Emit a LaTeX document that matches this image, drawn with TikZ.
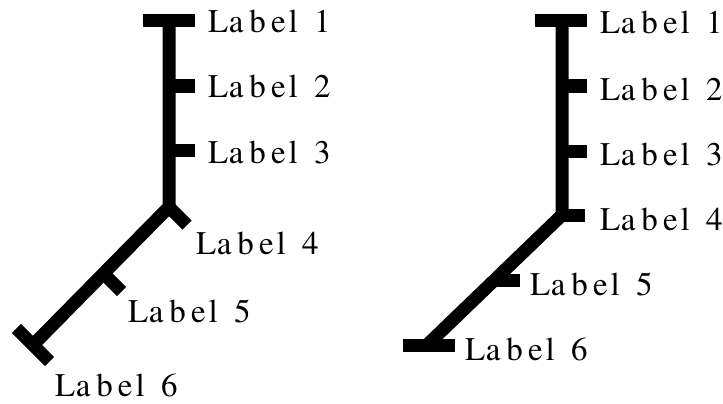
\documentclass[tikz,border=0pt]{standalone}
\usepackage[T1]{fontenc}
\usetikzlibrary{calc}
\newcommand\mylbl[1]{L\kern0.5pt a\kern6pt b\kern5pt e\kern3pt l\kern8pt\ #1}
\begin{document}
\begin{tikzpicture}[x=1pt,y=-1pt,
  trunk/.style={line width=13pt,line cap=butt,line join=miter},
  tick/.style={line width=13pt,line cap=butt},
  lab/.style={anchor=base west,inner sep=0pt,font=\fontencoding{T1}\fontfamily{ptm}\fontsize{33}{33}\selectfont}]
\useasboundingbox (0,0) rectangle (723,404);
% ---------- left tree ----------
\coordinate (LT) at (169,20.5);
\coordinate (LJ) at (169,207);
\coordinate (LE) at (33,345);
\coordinate (L2) at (169,86);
\coordinate (L3) at (169,150);
\coordinate (L5) at (103.5,273.5);
\draw[trunk] (LT) -- (LJ) -- (LE);
\draw[tick] (143,20.5) -- (195,20.5);
\draw[tick] (L2) -- ++(26,0);
\draw[tick] (L3) -- ++(26,0);
\draw[tick] (LJ) -- ++(18,18);
\draw[tick] (L5) -- ++(18,18);
\draw[tick] ($(LE)+(-16.6,-16.6)$) -- ($(LE)+(16.6,16.6)$);
\node[lab] (l1) at (208,33) {\mylbl{1}};
\node[lab] (l2) at (208,98) {\mylbl{2}};
\node[lab] (l3) at (208,163) {\mylbl{3}};
\node[lab] (l4) at (196,254) {\mylbl{4}};
\node[lab] (l5) at (128,322) {\mylbl{5}};
\node[lab] (l6) at (55,396) {\mylbl{6}};
% ---------- right tree ----------
\coordinate (RT) at (562,21);
\coordinate (RJ) at (562,215);
\coordinate (RE) at (427,345);
\coordinate (R2) at (562,86);
\coordinate (R3) at (562,151);
\coordinate (R5) at (494.5,280);
\draw[trunk] (RT) -- (RJ) -- (RE);
\draw[tick] (535,21) -- (587,21);
\draw[tick] (R2) -- ++(25,0);
\draw[tick] (R3) -- ++(25,0);
\draw[tick] (RJ) -- ++(23,0);
\draw[tick] (R5) -- (520,280);
\draw[tick] (403,345) -- (455,345);
\node[lab] (r1) at (600,34) {\mylbl{1}};
\node[lab] (r2) at (600,100) {\mylbl{2}};
\node[lab] (r3) at (600,165) {\mylbl{3}};
\node[lab] (r4) at (600,230) {\mylbl{4}};
\node[lab] (r5) at (530,295) {\mylbl{5}};
\node[lab] (r6) at (465,360) {\mylbl{6}};
\end{tikzpicture}
\end{document}
